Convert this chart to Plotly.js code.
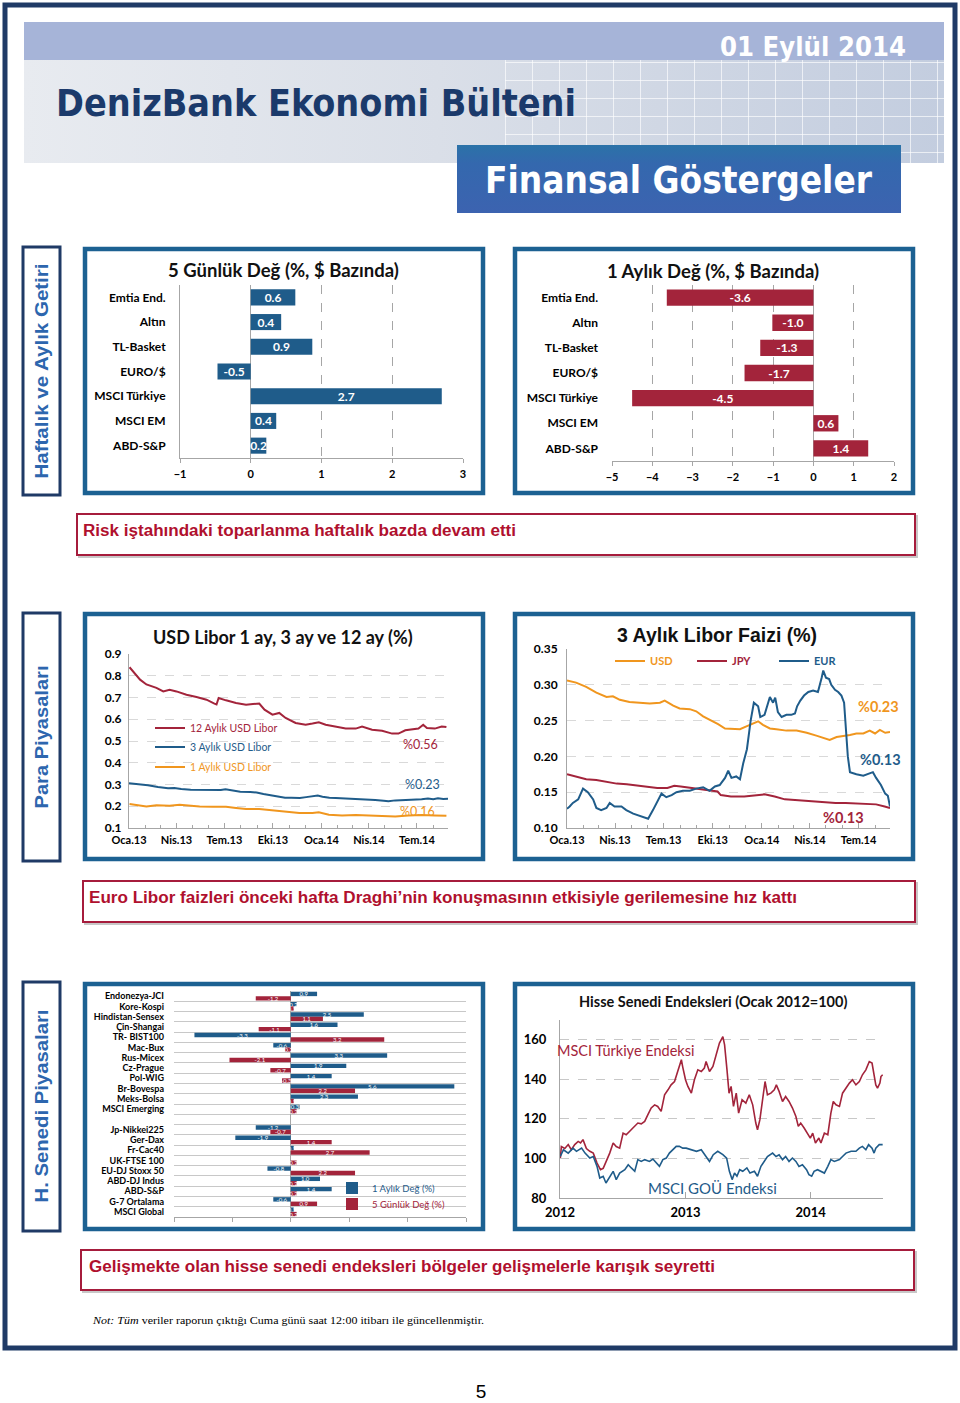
<!DOCTYPE html>
<html><head><meta charset="utf-8">
<script src="https://cdn.plot.ly/plotly-3.0.1.min.js"></script>
<style>
html,body{margin:0;padding:0;background:#fff;}
#page{position:relative;width:960px;height:1403px;overflow:hidden;background:#fff;}
#deco{position:absolute;left:0;top:0;}
#chart{position:absolute;left:0;top:0;width:960px;height:1403px;}
</style></head><body>
<div id="page">
<svg id="deco" width="960" height="1403" xmlns="http://www.w3.org/2000/svg">
<defs>
 <linearGradient id="hdr" x1="0" x2="1" y1="0" y2="0">
  <stop offset="0" stop-color="#E8EBF0"/>
  <stop offset="0.45" stop-color="#DADFE8"/>
  <stop offset="1" stop-color="#C3CDDF"/>
 </linearGradient>
 <linearGradient id="fin" x1="0" x2="0" y1="0" y2="1">
  <stop offset="0" stop-color="#2B72A8"/>
  <stop offset="0.28" stop-color="#3468AE"/>
  <stop offset="1" stop-color="#3C63B0"/>
 </linearGradient>
 <pattern id="grid" width="27" height="18" patternUnits="userSpaceOnUse" x="505" y="62">
  <path d="M0.5 0 V18 M0 0.5 H27" stroke="#ffffff" stroke-opacity="0.65" stroke-width="1" fill="none"/>
 </pattern>
</defs>
<rect x="5" y="5" width="950" height="1343" fill="none" stroke="#1F3A66" stroke-width="5"/>
<rect x="24" y="22" width="920" height="38" fill="#A6B4D8"/>
<rect x="24" y="60" width="920" height="103" fill="url(#hdr)"/>
<rect x="505" y="60" width="439" height="103" fill="url(#grid)"/>
<text x="720" y="56" textLength="186" lengthAdjust="spacingAndGlyphs" font-family="'DejaVu Sans Condensed','DejaVu Sans',sans-serif" font-weight="bold" font-size="27" fill="#ffffff">01 Eylül 2014</text>
<text x="56" y="116" textLength="520" lengthAdjust="spacingAndGlyphs" font-family="'DejaVu Sans Condensed','DejaVu Sans',sans-serif" font-weight="bold" font-size="38" fill="#1B3A6B">DenizBank Ekonomi Bülteni</text>
<rect x="457" y="145" width="444" height="68" fill="url(#fin)"/>
<text x="485" y="193" textLength="387" lengthAdjust="spacingAndGlyphs" font-family="'DejaVu Sans Condensed','DejaVu Sans',sans-serif" font-weight="bold" font-size="37" fill="#ffffff">Finansal Göstergeler</text>

<rect x="23" y="247" width="37" height="248" fill="#fff" stroke="#1F3A66" stroke-width="3"/>
<rect x="23" y="613" width="37" height="248" fill="#fff" stroke="#1F3A66" stroke-width="3"/>
<rect x="23" y="982" width="37" height="249" fill="#fff" stroke="#1F3A66" stroke-width="3"/>
<text transform="translate(48,371) rotate(-90)" text-anchor="middle" textLength="215" lengthAdjust="spacingAndGlyphs" font-family="'Liberation Sans',Arial,sans-serif" font-weight="bold" font-size="18" fill="#2D66AE">Haftalık ve Aylık Getiri</text>
<text transform="translate(48,737) rotate(-90)" text-anchor="middle" textLength="143" lengthAdjust="spacingAndGlyphs" font-family="'Liberation Sans',Arial,sans-serif" font-weight="bold" font-size="18" fill="#2D66AE">Para Piyasaları</text>
<text transform="translate(48,1106) rotate(-90)" text-anchor="middle" textLength="193" lengthAdjust="spacingAndGlyphs" font-family="'Liberation Sans',Arial,sans-serif" font-weight="bold" font-size="18" fill="#2D66AE">H. Senedi Piyasaları</text>

<g fill="#fff" stroke="#1C6192" stroke-width="4.5">
<rect x="85" y="249" width="398" height="244"/>
<rect x="515" y="249" width="398" height="244"/>
<rect x="85" y="614" width="398" height="245"/>
<rect x="515" y="614" width="398" height="245"/>
<rect x="85" y="984" width="398" height="245"/>
<rect x="515" y="984" width="398" height="245"/>
</g>

<g fill="none">
<rect x="79" y="516" width="838" height="41" stroke="#C8C8C8" stroke-width="2"/>
<rect x="77" y="514" width="838" height="41" fill="#fff" stroke="#A61C3C" stroke-width="2"/>
<rect x="85" y="883" width="832" height="41" stroke="#C8C8C8" stroke-width="2"/>
<rect x="83" y="881" width="832" height="41" fill="#fff" stroke="#A61C3C" stroke-width="2"/>
<rect x="83" y="1252" width="833" height="40" stroke="#C8C8C8" stroke-width="2"/>
<rect x="81" y="1250" width="833" height="40" fill="#fff" stroke="#A61C3C" stroke-width="2"/>
</g>
<text x="83" y="536" textLength="433" lengthAdjust="spacingAndGlyphs" font-family="'Liberation Sans',Arial,sans-serif" font-weight="bold" font-size="16" fill="#B0102E">Risk iştahındaki toparlanma haftalık bazda devam etti</text>
<text x="89" y="903" textLength="708" lengthAdjust="spacingAndGlyphs" font-family="'Liberation Sans',Arial,sans-serif" font-weight="bold" font-size="16" fill="#B0102E">Euro Libor faizleri önceki hafta Draghi’nin konuşmasının etkisiyle gerilemesine hız kattı</text>
<text x="89" y="1272" textLength="626" lengthAdjust="spacingAndGlyphs" font-family="'Liberation Sans',Arial,sans-serif" font-weight="bold" font-size="16" fill="#B0102E">Gelişmekte olan hisse senedi endeksleri bölgeler gelişmelerle karışık seyretti</text>
<text x="93" y="1324" textLength="391" lengthAdjust="spacingAndGlyphs" font-family="'Liberation Serif','Times New Roman',serif" font-size="11" fill="#000"><tspan font-style="italic">Not: Tüm</tspan> veriler raporun çıktığı Cuma günü saat 12:00 itibarı ile güncellenmiştir.</text>
<text x="481" y="1398" text-anchor="middle" font-family="'Liberation Sans',Arial,sans-serif" font-size="19" fill="#000">5</text>
</svg>
<div id="chart"></div>
</div>
<script>
// ---------- DATA ----------
const assetCats = ['Emtia End.','Altın','TL-Basket','EURO/$','MSCI Türkiye','MSCI EM','ABD-S&P'];
const weekChg  = [0.63, 0.43, 0.87, -0.47, 2.70, 0.36, 0.22];
const monthChg = [-3.64, -1.02, -1.32, -1.71, -4.50, 0.62, 1.36];

const quarterTicks  = ['2013-01-01','2013-04-01','2013-07-01','2013-10-01','2014-01-01','2014-04-01','2014-07-01'];
const quarterLabels = ['Oca.13','Nis.13','Tem.13','Eki.13','Oca.14','Nis.14','Tem.14'];

const usd12Dates = ['2013-01-02','2013-01-09','2013-01-22','2013-02-03','2013-02-22','2013-03-07','2013-03-19','2013-04-01','2013-04-20','2013-05-09','2013-05-28','2013-06-12','2013-06-16','2013-06-20','2013-06-26','2013-07-04','2013-07-23','2013-08-11','2013-08-24','2013-09-05','2013-09-15','2013-09-30','2013-10-13','2013-10-25','2013-11-13','2013-12-02','2013-12-15','2013-12-27','2014-01-09','2014-01-28','2014-02-16','2014-03-07','2014-03-19','2014-04-07','2014-04-26','2014-05-15','2014-05-27','2014-06-09','2014-06-21','2014-07-04','2014-07-13','2014-07-20','2014-08-04','2014-08-17','2014-08-26'];
const usd12 = [0.839,0.82,0.782,0.76,0.744,0.728,0.736,0.728,0.713,0.702,0.69,0.672,0.668,0.698,0.693,0.687,0.675,0.667,0.67,0.672,0.644,0.621,0.629,0.606,0.583,0.575,0.58,0.586,0.575,0.567,0.557,0.557,0.567,0.552,0.547,0.534,0.534,0.549,0.552,0.557,0.575,0.56,0.557,0.567,0.564];

const usd3Dates = ['2013-01-01','2013-01-18','2013-02-06','2013-02-25','2013-03-16','2013-03-28','2013-04-10','2013-04-28','2013-05-17','2013-06-05','2013-06-24','2013-07-03','2013-07-19','2013-07-31','2013-08-19','2013-08-31','2013-09-13','2013-09-29','2013-10-11','2013-10-24','2013-11-05','2013-11-21','2013-12-03','2013-12-16','2013-12-25','2014-01-03','2014-01-16','2014-01-28','2014-02-16','2014-03-07','2014-03-26','2014-04-13','2014-04-29','2014-05-08','2014-05-21','2014-06-02','2014-06-15','2014-06-27','2014-07-10','2014-07-22','2014-08-01','2014-08-10','2014-08-20','2014-08-29'];
const usd3 = [0.306,0.303,0.297,0.289,0.283,0.284,0.279,0.276,0.275,0.274,0.275,0.278,0.271,0.267,0.266,0.263,0.256,0.25,0.245,0.239,0.239,0.238,0.242,0.246,0.249,0.244,0.239,0.238,0.236,0.236,0.233,0.229,0.225,0.223,0.227,0.228,0.230,0.232,0.232,0.236,0.232,0.237,0.233,0.234];

const usd1Dates = ['2013-01-02','2013-01-22','2013-02-03','2013-02-22','2013-03-19','2013-04-07','2013-04-26','2013-05-15','2013-06-09','2013-07-04','2013-07-23','2013-08-11','2013-09-05','2013-09-24','2013-10-13','2013-11-01','2013-11-20','2013-12-15','2013-12-27','2014-01-15','2014-02-09','2014-03-07','2014-04-01','2014-04-26','2014-05-21','2014-06-15','2014-07-10','2014-08-04','2014-08-26'];
const usd1 = [0.21,0.205,0.199,0.205,0.202,0.207,0.202,0.199,0.198,0.198,0.192,0.187,0.187,0.182,0.176,0.172,0.169,0.169,0.172,0.161,0.157,0.16,0.157,0.153,0.153,0.157,0.16,0.158,0.156];

const jpyDates = ['2013-01-01','2013-01-18','2013-02-06','2013-02-25','2013-03-16','2013-04-04','2013-04-23','2013-05-12','2013-05-31','2013-06-19','2013-07-08','2013-07-21','2013-08-02','2013-08-21','2013-09-09','2013-09-27','2013-10-10','2013-10-16','2013-11-04','2013-11-29','2013-12-18','2014-01-06','2014-01-25','2014-02-13','2014-03-04','2014-03-23','2014-04-11','2014-04-30','2014-05-19','2014-06-07','2014-06-26','2014-07-15','2014-08-03','2014-08-19','2014-08-29'];
const jpy = [0.175,0.172,0.168,0.167,0.164,0.162,0.161,0.159,0.157,0.156,0.156,0.159,0.158,0.156,0.155,0.153,0.151,0.146,0.144,0.144,0.146,0.147,0.144,0.140,0.139,0.138,0.136,0.136,0.135,0.135,0.134,0.133,0.133,0.130,0.128];

const eurDates = ['2013-01-01','2013-01-06','2013-01-12','2013-01-22','2013-01-31','2013-02-09','2013-02-19','2013-02-25','2013-03-06','2013-03-16','2013-03-22','2013-03-31','2013-04-13','2013-04-22','2013-05-05','2013-05-14','2013-05-23','2013-06-02','2013-06-11','2013-06-21','2013-06-27','2013-07-06','2013-07-16','2013-07-25','2013-08-06','2013-08-19','2013-08-31','2013-09-13','2013-09-25','2013-10-05','2013-10-14','2013-10-24','2013-10-30','2013-11-05','2013-11-14','2013-11-21','2013-11-27','2013-12-04','2013-12-11','2013-12-17','2013-12-25','2013-12-29','2014-01-06','2014-01-16','2014-01-22','2014-01-26','2014-01-31','2014-02-07','2014-02-16','2014-02-25','2014-03-04','2014-03-08','2014-03-14','2014-03-21','2014-03-29','2014-04-07','2014-04-16','2014-04-23','2014-04-26','2014-05-01','2014-05-07','2014-05-11','2014-05-18','2014-05-24','2014-05-30','2014-06-04','2014-06-07','2014-06-11','2014-06-15','2014-06-27','2014-07-10','2014-07-19','2014-07-28','2014-08-03','2014-08-12','2014-08-20','2014-08-25','2014-08-29'];
const eur = [0.127,0.13,0.135,0.14,0.155,0.15,0.14,0.128,0.125,0.128,0.135,0.13,0.13,0.125,0.12,0.118,0.115,0.113,0.125,0.14,0.148,0.143,0.146,0.15,0.152,0.152,0.155,0.157,0.152,0.158,0.16,0.17,0.18,0.17,0.172,0.168,0.19,0.21,0.25,0.275,0.27,0.255,0.258,0.283,0.275,0.282,0.262,0.255,0.258,0.258,0.26,0.27,0.278,0.285,0.29,0.292,0.29,0.31,0.32,0.31,0.308,0.30,0.293,0.29,0.285,0.275,0.245,0.20,0.178,0.175,0.173,0.176,0.178,0.17,0.16,0.148,0.145,0.13];

const indexCats = ['Endonezya-JCI','Kore-Kospi','Hindistan-Sensex','Çin-Shangai','TR- BIST100','Mac-Bux','Rus-Micex','Cz-Prague','Pol-WIG','Br-Bovespa','Meks-Bolsa','MSCI Emerging','','Jp-Nikkei225','Ger-Dax','Fr-Cac40','UK-FTSE 100','EU-DJ Stoxx 50','ABD-DJ Indus','ABD-S&P','G-7 Ortalama','MSCI Global'];
const index1M = [0.9, 0.2, 2.5, 1.6, -3.3, -0.6, 3.3, 1.9, 1.4, 5.6, 2.3, 0.3, null, -1.2, -1.9, 0.1, 0.0, -0.8, 1.0, 1.4, -0.6, 0.1];
const index5D = [-1.2, 0.1, 1.1, -1.1, 3.2, -0.2, -2.1, -0.7, -0.3, 2.2, 0.1, 0.2, null, -0.7, 1.4, 2.7, 0.2, 2.2, 0.2, 0.2, 0.9, 0.2];

const yearTicks = ['2012-01-01','2013-01-01','2014-01-01'];
const yearLabels = ['2012','2013','2014'];
const trDates = ['2012-01-02','2012-01-05','2012-01-15','2012-01-25','2012-02-03','2012-02-13','2012-02-23','2012-03-01','2012-03-08','2012-03-18','2012-03-28','2012-04-07','2012-04-18','2012-04-28','2012-05-06','2012-05-15','2012-05-25','2012-06-04','2012-06-13','2012-06-23','2012-07-03','2012-07-12','2012-07-22','2012-08-06','2012-08-15','2012-08-25','2012-09-04','2012-09-13','2012-09-23','2012-10-03','2012-10-12','2012-10-22','2012-11-01','2012-11-11','2012-11-20','2012-11-30','2012-12-10','2012-12-20','2012-12-24','2013-01-01','2013-01-08','2013-01-18','2013-01-27','2013-02-06','2013-02-16','2013-02-25','2013-03-02','2013-03-12','2013-03-22','2013-04-01','2013-04-10','2013-04-20','2013-04-25','2013-05-02','2013-05-08','2013-05-14','2013-05-21','2013-05-29','2013-06-05','2013-06-15','2013-06-26','2013-07-06','2013-07-16','2013-07-25','2013-07-30','2013-08-06','2013-08-14','2013-08-21','2013-08-28','2013-09-07','2013-09-17','2013-09-23','2013-10-01','2013-10-11','2013-10-20','2013-10-30','2013-11-09','2013-11-19','2013-11-26','2013-12-03','2013-12-13','2013-12-23','2013-12-31','2014-01-07','2014-01-15','2014-01-25','2014-01-31','2014-02-10','2014-02-20','2014-03-01','2014-03-08','2014-03-16','2014-03-26','2014-04-04','2014-04-14','2014-04-24','2014-05-03','2014-05-13','2014-05-23','2014-06-01','2014-06-11','2014-06-21','2014-06-29','2014-07-05','2014-07-10','2014-07-15','2014-07-22','2014-07-25','2014-07-30'];
const trIdx = [100.2,106,105,107,104.4,107,108.6,107.8,109.5,105,103.6,102.7,97.7,94.3,95,98.5,102.7,107.8,106,105.2,112.8,112,113.7,116.2,117.9,117.5,118.7,122,125.5,127.1,126.3,123.8,132.2,134.7,137.2,138.9,144,149.9,146.2,139.8,136.4,133,139.8,144.8,144,145.7,149,144,146.5,152.4,158.3,161.6,157.4,144.8,133,136.4,126.3,133,122.9,129.7,128,132.2,127.1,117.9,114.5,119.6,129.7,138.9,132.2,133,134.7,137.2,133.9,128.8,131.3,128.8,125.5,121.2,116.2,117.9,115.4,112.8,110.3,112.8,107.8,110.3,107.8,112.8,112,122.9,128.8,127.1,126.3,133,135.6,138.1,139.8,137.2,138.9,142.3,144.8,149,148.2,141.4,137.2,135.6,138.1,141.4,142.3];
const emDates = ['2012-01-02','2012-01-11','2012-01-25','2012-02-08','2012-02-18','2012-03-04','2012-03-14','2012-03-28','2012-04-07','2012-04-18','2012-04-26','2012-05-06','2012-05-14','2012-05-24','2012-06-04','2012-06-13','2012-06-23','2012-07-08','2012-07-18','2012-07-27','2012-08-06','2012-08-15','2012-08-25','2012-09-04','2012-09-18','2012-09-28','2012-10-08','2012-10-17','2012-10-27','2012-11-06','2012-11-15','2012-11-25','2012-12-05','2012-12-14','2012-12-24','2013-01-03','2013-01-18','2013-02-02','2013-02-16','2013-03-02','2013-03-12','2013-03-23','2013-04-05','2013-04-20','2013-05-01','2013-05-09','2013-05-17','2013-05-24','2013-05-31','2013-06-08','2013-06-17','2013-06-29','2013-07-08','2013-07-21','2013-07-30','2013-08-09','2013-08-19','2013-08-28','2013-09-12','2013-09-22','2013-10-01','2013-10-11','2013-10-20','2013-10-30','2013-11-09','2013-11-19','2013-11-28','2013-12-08','2013-12-20','2013-12-27','2014-01-04','2014-01-11','2014-01-21','2014-01-31','2014-02-10','2014-02-20','2014-03-01','2014-03-11','2014-03-26','2014-04-04','2014-04-14','2014-04-29','2014-05-13','2014-05-23','2014-06-01','2014-06-11','2014-06-19','2014-06-29','2014-07-05','2014-07-10','2014-07-20','2014-07-30'];
const emIdx = [101,104.4,102.7,105.2,103.6,105.2,102.7,100.2,101,96,90.1,91,87.6,90.1,93.5,89.3,92.6,94.3,96.8,95.2,93.5,99.4,98.5,99.4,98.5,99.7,97.7,96,99.4,100.2,102.7,104.4,106.1,106.1,105.2,105.2,104.4,103.6,104.4,101,98.5,101.9,103.6,101.9,100.2,93.5,89.3,92.6,91,94.3,93.5,95.2,92.6,93.5,91,96,98.5,101,102.7,101,101.9,99.4,101,98.5,100.2,98.5,96,96.8,94.3,91.8,91,93.5,94.3,93.5,92.6,96,99.4,98.5,99.4,101,102.7,103.6,103.6,105.2,106.1,104.4,107,105.2,102.7,105.2,107,107];

// ---------- STYLE ----------
const W = 960, H = 1403;
const fx = p => p / W, fy = p => 1 - p / H;
const xd = (a, b) => [fx(a), fx(b)];
const yd = (top, bottom) => [fy(bottom), fy(top)];
const F = 'Lato, "Open Sans", sans-serif';
const BLUE = '#1F5C8A', RED = '#A3243B', ORANGE = '#F0961E', AX = '#A6A6A6', GR = '#C8C8C8';
const tf = (s, w) => ({family: F, size: s, color: '#000', weight: w || 'bold'});
const span = (c, t) => '<span style="color:' + c + '">' + t + '</span>';
const lastLbl = a => '%' + a[a.length - 1].toFixed(2);

const traces = [
  {type:'bar', orientation:'h', x:weekChg, y:assetCats, xaxis:'x', yaxis:'y', width:0.65,
   marker:{color:BLUE}, text:weekChg.map(v=>v.toFixed(1)), textposition:'inside', insidetextanchor:'middle', textangle:0,
   constraintext:'none', textfont:{family:F,size:12,color:'#fff',weight:'bold'}, showlegend:false, hoverinfo:'skip'},
  {type:'bar', orientation:'h', x:monthChg, y:assetCats, xaxis:'x2', yaxis:'y2', width:0.65,
   marker:{color:RED}, text:monthChg.map(v=>v.toFixed(1)), textposition:'inside', insidetextanchor:'middle', textangle:0,
   constraintext:'none', textfont:{family:F,size:12,color:'#fff',weight:'bold'}, showlegend:false, hoverinfo:'skip'},
  {type:'scatter', mode:'lines', x:usd12Dates, y:usd12, xaxis:'x3', yaxis:'y3', line:{color:RED,width:2},
   name:span(RED,'12 Aylık USD Libor'), legend:'legend'},
  {type:'scatter', mode:'lines', x:usd3Dates, y:usd3, xaxis:'x3', yaxis:'y3', line:{color:BLUE,width:2},
   name:span(BLUE,'3 Aylık USD Libor'), legend:'legend2'},
  {type:'scatter', mode:'lines', x:usd1Dates, y:usd1, xaxis:'x3', yaxis:'y3', line:{color:ORANGE,width:2},
   name:span(ORANGE,'1 Aylık USD Libor'), legend:'legend3'},
  {type:'scatter', mode:'lines', x:usd3Dates, y:usd3, xaxis:'x4', yaxis:'y4', line:{color:ORANGE,width:2},
   name:span(ORANGE,'USD'), legend:'legend4'},
  {type:'scatter', mode:'lines', x:jpyDates, y:jpy, xaxis:'x4', yaxis:'y4', line:{color:RED,width:2},
   name:span(RED,'JPY'), legend:'legend5'},
  {type:'scatter', mode:'lines', x:eurDates, y:eur, xaxis:'x4', yaxis:'y4', line:{color:BLUE,width:2},
   name:span(BLUE,'EUR'), legend:'legend6'},
  {type:'bar', orientation:'h', x:index1M, y:indexCats.map((c,i)=>i), xaxis:'x5', yaxis:'y5',
   marker:{color:BLUE}, text:index1M.map(v=>v===null?'':v.toFixed(1)), textposition:'inside', insidetextanchor:'middle', textangle:0,
   constraintext:'none', textfont:{family:F,size:6,color:'#fff'}, name:span(BLUE,'1 Aylık Değ (%)'), legend:'legend7', hoverinfo:'skip'},
  {type:'bar', orientation:'h', x:index5D, y:indexCats.map((c,i)=>i), xaxis:'x5', yaxis:'y5',
   marker:{color:RED}, text:index5D.map(v=>v===null?'':v.toFixed(1)), textposition:'inside', insidetextanchor:'middle', textangle:0,
   constraintext:'none', textfont:{family:F,size:6,color:'#fff'}, name:span(RED,'5 Günlük Değ (%)'), legend:'legend8', hoverinfo:'skip'},
  {type:'scatter', mode:'lines', x:trDates, y:trIdx, xaxis:'x6', yaxis:'y6', line:{color:RED,width:1.6}, showlegend:false},
  {type:'scatter', mode:'lines', x:emDates, y:emIdx, xaxis:'x6', yaxis:'y6', line:{color:BLUE,width:1.6}, showlegend:false}
];

const lg = (x, y, size, weight) => ({x:fx(x), y:fy(y), xanchor:'left', yanchor:'middle', bgcolor:'rgba(0,0,0,0)',
  borderwidth:0, font:{family:F, size:size, weight:weight||'normal'}, itemclick:false, itemdoubleclick:false});

const bounds = [];
for (let i = 0; i <= indexCats.length; i++) bounds.push(i - 0.5);

const layout = {
  width: W, height: H, margin:{l:0,r:0,t:0,b:0},
  paper_bgcolor:'rgba(0,0,0,0)', plot_bgcolor:'rgba(0,0,0,0)',
  font:{family:F}, bargap:0.14, bargroupgap:0, barmode:'group',
  xaxis:{domain:xd(180,463), anchor:'y', range:[-1,3], dtick:1, showgrid:true, gridcolor:AX, griddash:'dash',
    zeroline:true, zerolinecolor:AX, showline:true, linecolor:AX, ticks:'outside', ticklen:4, tickcolor:AX,
    tickfont:tf(11), ticklabelstandoff:2, fixedrange:true},
  yaxis:{domain:yd(285,458), anchor:'x', type:'category', autorange:'reversed', showline:true, linecolor:AX,
    showgrid:false, ticks:'', tickfont:tf(12), ticklabelstandoff:11, fixedrange:true},
  xaxis2:{domain:xd(612,894), anchor:'y2', range:[-5,2], dtick:1, showgrid:true, gridcolor:AX, griddash:'dash',
    zeroline:true, zerolinecolor:AX, showline:true, linecolor:AX, ticks:'outside', ticklen:4, tickcolor:AX,
    tickfont:tf(11), ticklabelstandoff:2, fixedrange:true},
  yaxis2:{domain:yd(285,461), anchor:'x2', type:'category', autorange:'reversed', showline:false,
    showgrid:false, ticks:'', tickfont:tf(12), ticklabelstandoff:13, fixedrange:true},
  xaxis3:{domain:xd(129,448), anchor:'y3', type:'date', range:['2013-01-01','2014-08-29'], tickmode:'array',
    tickvals:quarterTicks, ticktext:quarterLabels, showgrid:false, showline:true, linecolor:AX, ticks:'inside',
    ticklen:5, tickcolor:AX, minor:{dtick:'M1', ticks:'inside', ticklen:3, tickcolor:AX, showgrid:false},
    tickfont:tf(11), ticklabelstandoff:2},
  yaxis3:{domain:yd(654,828), anchor:'x3', range:[0.1,0.9], dtick:0.1, tick0:0.1, tickformat:'.1f', showgrid:true,
    gridcolor:'#D9D9D9', griddash:'dash', showline:true, linecolor:AX, zeroline:false, ticks:'', tickfont:tf(12),
    ticklabelstandoff:4},
  xaxis4:{domain:xd(567,890), anchor:'y4', type:'date', range:['2013-01-01','2014-08-29'], tickmode:'array',
    tickvals:quarterTicks, ticktext:quarterLabels, showgrid:false, showline:true, linecolor:AX, ticks:'inside',
    ticklen:5, tickcolor:AX, minor:{dtick:'M1', ticks:'inside', ticklen:3, tickcolor:AX, showgrid:false},
    tickfont:tf(11), ticklabelstandoff:2},
  yaxis4:{domain:yd(649,828), anchor:'x4', range:[0.1,0.35], dtick:0.05, tick0:0.1, tickformat:'.2f', showgrid:true,
    gridcolor:'#D9D9D9', griddash:'dash', showline:true, linecolor:AX, zeroline:false, ticks:'', tickfont:tf(12),
    ticklabelstandoff:6},
  xaxis5:{domain:xd(174,466), anchor:'y5', range:[-4,6], dtick:2, showticklabels:false, showgrid:false,
    zeroline:true, zerolinecolor:AX, showline:true, linecolor:AX, ticks:'outside', ticklen:4, tickcolor:AX},
  yaxis5:{domain:yd(991,1217), anchor:'x5', range:[indexCats.length-0.5,-0.5], tickmode:'array',
    tickvals:indexCats.map((c,i)=>i), ticktext:indexCats, showgrid:false, zeroline:false, ticks:'',
    minor:{tickmode:'array', tickvals:bounds, showgrid:true, gridcolor:GR, ticks:''},
    tickfont:tf(9), ticklabelstandoff:9},
  xaxis6:{domain:xd(560,883), anchor:'y6', type:'date', range:['2012-01-01','2014-07-31'], tickmode:'array',
    tickvals:yearTicks, ticktext:yearLabels, showgrid:false, showline:true, linecolor:AX, ticks:'inside',
    ticklen:6, tickcolor:AX, tickfont:tf(13), ticklabelstandoff:2},
  yaxis6:{domain:yd(1020,1198), anchor:'x6', range:[80,170], tickmode:'array', tickvals:[80,100,120,140,160],
    showgrid:true, gridcolor:GR, griddash:'dash', showline:true, linecolor:AX, zeroline:false, ticks:'',
    tickfont:tf(13), ticklabelstandoff:10},
  legend: lg(150, 728, 10.5),
  legend2: lg(150, 747, 10.5),
  legend3: lg(150, 767, 10.5),
  legend4: lg(610, 661, 11, 'bold'),
  legend5: lg(692, 661, 11, 'bold'),
  legend6: lg(774, 661, 11, 'bold'),
  legend7: lg(332, 1188, 9.5),
  legend8: lg(332, 1204, 9.5),
  annotations: [
    {text:'5 Günlük Değ (%, $ Bazında)', x:fx(283), y:fy(270), font:{family:F,size:18.5,color:'#111',weight:'bold'}},
    {text:'1 Aylık Değ (%, $ Bazında)', x:fx(713), y:fy(271), font:{family:F,size:18.5,color:'#111',weight:'bold'}},
    {text:'USD Libor 1 ay, 3 ay ve 12 ay (%)', x:fx(283), y:fy(637), font:{family:F,size:18,color:'#111',weight:'bold'}},
    {text:'3 Aylık Libor Faizi (%)', x:fx(717), y:fy(635), font:{family:'"Liberation Sans", Arial, sans-serif',size:19.5,color:'#111',weight:'bold'}},
    {text:'Hisse Senedi Endeksleri (Ocak 2012=100)', x:fx(713), y:fy(1001), font:{family:F,size:14.5,color:'#111',weight:'bold'}},
    {text:lastLbl(usd12), x:fx(420), y:fy(744), font:{family:F,size:12.5,color:RED}},
    {text:lastLbl(usd3), x:fx(422), y:fy(784), font:{family:F,size:12.5,color:BLUE}},
    {text:lastLbl(usd1), x:fx(417), y:fy(811), font:{family:F,size:12.5,color:ORANGE}},
    {text:lastLbl(usd3), x:fx(878), y:fy(707), font:{family:F,size:14.5,color:ORANGE,weight:'bold'}},
    {text:lastLbl(eur), x:fx(880), y:fy(760), font:{family:F,size:14.5,color:BLUE,weight:'bold'}},
    {text:lastLbl(jpy), x:fx(843), y:fy(817), font:{family:F,size:14.5,color:RED,weight:'bold'}},
    {text:'MSCI Türkiye Endeksi', x:fx(625), y:fy(1050), font:{family:F,size:14.5,color:RED}},
    {text:'MSCI GOÜ Endeksi', x:fx(712), y:fy(1188), font:{family:F,size:15,color:BLUE}}
  ].map(a => Object.assign({xref:'paper', yref:'paper', showarrow:false, xanchor:'center', yanchor:'middle'}, a))
};

Plotly.newPlot('chart', traces, layout, {staticPlot:true, displayModeBar:false});
</script>
</body></html>
